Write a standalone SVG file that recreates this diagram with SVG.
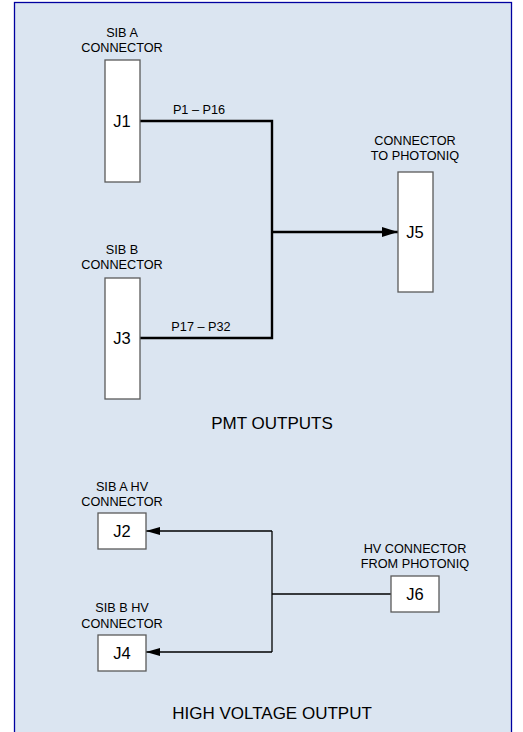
<svg xmlns="http://www.w3.org/2000/svg" width="523" height="732" viewBox="0 0 523 732">
<style>
.lbl{font-family:"Liberation Sans",Arial,sans-serif;font-size:12.7px;fill:#000;text-anchor:middle}
.big{font-family:"Liberation Sans",Arial,sans-serif;font-size:16.5px;fill:#000;text-anchor:middle}
.title{font-family:"Liberation Sans",Arial,sans-serif;font-size:17px;fill:#000;text-anchor:middle}
.box{fill:#fff;stroke:#5a5a5a;stroke-width:1.3}
.thick{fill:none;stroke:#000;stroke-width:2.4}
.thin{fill:none;stroke:#000;stroke-width:1.3}
</style>
<defs>
<marker id="ah" viewBox="0 0 16 10" refX="16" refY="5" markerWidth="16" markerHeight="10" markerUnits="userSpaceOnUse" orient="auto"><path d="M0,0 L16,5 L0,10 Z" fill="#000"/></marker>
<marker id="ahs" viewBox="0 0 14 8" refX="14" refY="4" markerWidth="14" markerHeight="8" markerUnits="userSpaceOnUse" orient="auto"><path d="M0,0 L14,4 L0,8 Z" fill="#000"/></marker>
</defs>
<rect x="0" y="0" width="523" height="732" fill="#fff"/>
<rect x="14.5" y="2.5" width="497" height="740" fill="#dbe5f1" stroke="#0000a0" stroke-width="1.3"/>
<g id="connectors">
<path class="thick" d="M140,121 H272 V338 H140"/>
<path class="thick" d="M272,232 H398" marker-end="url(#ah)"/>
<path class="thin" d="M391,594 H272"/>
<path class="thin" d="M272,531 V652"/>
<path class="thin" d="M272,531 H146" marker-end="url(#ahs)"/>
<path class="thin" d="M272,652 H146" marker-end="url(#ahs)"/>
<text class="lbl" x="199" y="114">P1 – P16</text>
<text class="lbl" x="201" y="331">P17 – P32</text>
</g>
<g id="J1">
<text class="lbl" x="122" y="37">SIB A</text>
<text class="lbl" x="122" y="52">CONNECTOR</text>
<rect class="box" x="105" y="60" width="35" height="122"/>
<text class="big" x="122" y="127">J1</text>
</g>
<g id="J3">
<text class="lbl" x="122" y="254">SIB B</text>
<text class="lbl" x="122" y="269">CONNECTOR</text>
<rect class="box" x="105" y="278" width="35" height="121"/>
<text class="big" x="122" y="344">J3</text>
</g>
<g id="J5">
<text class="lbl" x="415" y="145">CONNECTOR</text>
<text class="lbl" x="415" y="160">TO PHOTONIQ</text>
<rect class="box" x="398" y="172" width="35" height="120"/>
<text class="big" x="415" y="238">J5</text>
</g>
<text class="title" x="272" y="429">PMT OUTPUTS</text>
<g id="J2">
<text class="lbl" x="122" y="491">SIB A HV</text>
<text class="lbl" x="122" y="506">CONNECTOR</text>
<rect class="box" x="98" y="513" width="48" height="36"/>
<text class="big" x="122" y="537">J2</text>
</g>
<g id="J4">
<text class="lbl" x="122" y="612">SIB B HV</text>
<text class="lbl" x="122" y="628">CONNECTOR</text>
<rect class="box" x="98" y="635" width="48" height="36"/>
<text class="big" x="122" y="659">J4</text>
</g>
<g id="J6">
<text class="lbl" x="415" y="553">HV CONNECTOR</text>
<text class="lbl" x="415" y="568">FROM PHOTONIQ</text>
<rect class="box" x="391" y="576" width="48" height="36"/>
<text class="big" x="415" y="600">J6</text>
</g>
<text class="title" x="272" y="719">HIGH VOLTAGE OUTPUT</text>
</svg>
